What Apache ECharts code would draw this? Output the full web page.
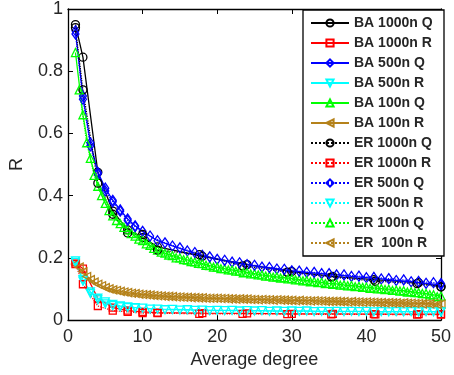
<!DOCTYPE html>
<html>
<head>
<meta charset="utf-8">
<script src="https://cdn.jsdelivr.net/npm/echarts@6/dist/echarts.min.js"></script>
<style>
  html, body { margin: 0; padding: 0; background: #fff; }
  #chart { width: 454px; height: 375px; }
</style>
</head>
<body>
<div id="chart"></div>
<script>
// ---- data ----
const xTicks = [0, 10, 20, 30, 40, 50];
const yTicks = [0, 0.2, 0.4, 0.6, 0.8, 1];

const legendNames = ['BA 1000n Q', 'BA 1000n R', 'BA 500n Q', 'BA 500n R', 'BA 100n Q', 'BA 100n R',
  'ER 1000n Q', 'ER 1000n R', 'ER 500n Q', 'ER 500n R', 'ER 100n Q', 'ER  100n R'];

// 1000 nodes
const xBA1000 = [1, 2, 4, 6, 8, 10, 12, 18, 24, 30, 35.5, 41, 47, 50];
const qBA1000 = [0.95, 0.845, 0.475, 0.35, 0.29, 0.265, 0.235, 0.205, 0.178, 0.156, 0.14, 0.13, 0.12, 0.108];
const rBA1000 = [0.185, 0.165, 0.07, 0.04, 0.03, 0.026, 0.024, 0.022, 0.021, 0.02, 0.02, 0.019, 0.019, 0.019];
const xER1000 = [1, 2, 4, 6, 8, 10, 12, 17.6, 23.4, 29.4, 35.3, 41.2, 46.8, 50];
const qER1000 = [0.94, 0.74, 0.44, 0.34, 0.28, 0.275, 0.225, 0.21, 0.174, 0.154, 0.138, 0.125, 0.117, 0.106];
const rER1000 = [0.18, 0.115, 0.045, 0.03, 0.026, 0.022, 0.022, 0.02, 0.02, 0.019, 0.018, 0.018, 0.017, 0.017];

// 500 nodes
const xBA500 = [1, 2, 3, 4, 5, 6, 7, 8, 9, 10, 12, 14, 16, 18, 20, 22, 24, 26, 28, 30, 32, 34, 36, 38, 40, 42, 44, 46, 48, 50];
const qBA500 = [0.93, 0.72, 0.57, 0.475, 0.424, 0.385, 0.354, 0.325, 0.303, 0.285, 0.255, 0.238, 0.222, 0.208, 0.195,
  0.186, 0.178, 0.17, 0.164, 0.158, 0.153, 0.149, 0.145, 0.14, 0.136, 0.132, 0.127, 0.123, 0.118, 0.113];
const rBA500 = [0.19, 0.13, 0.09, 0.07, 0.058, 0.05, 0.045, 0.042, 0.04, 0.038, 0.035, 0.034, 0.033, 0.032, 0.031,
  0.031, 0.03, 0.03, 0.029, 0.029, 0.029, 0.028, 0.028, 0.028, 0.028, 0.027, 0.027, 0.027, 0.027, 0.027];
const xER500 = [1, 2, 3, 4, 5, 6, 7, 8, 9, 11, 13, 15, 17, 19, 21, 23, 25, 27, 29, 31, 33, 35, 37, 39, 41, 43, 45, 47, 49, 50];
const qER500 = [0.92, 0.71, 0.56, 0.47, 0.415, 0.38, 0.35, 0.32, 0.3, 0.27, 0.248, 0.232, 0.217, 0.203, 0.192,
  0.184, 0.176, 0.169, 0.163, 0.157, 0.153, 0.149, 0.145, 0.141, 0.137, 0.133, 0.129, 0.124, 0.12, 0.117];
const rER500 = [0.185, 0.125, 0.085, 0.065, 0.052, 0.046, 0.042, 0.04, 0.038, 0.035, 0.033, 0.032, 0.031, 0.03, 0.03,
  0.029, 0.029, 0.028, 0.028, 0.028, 0.027, 0.027, 0.027, 0.027, 0.026, 0.026, 0.026, 0.026, 0.026, 0.026];

// 100 nodes
const xBA100 = [1, 2, 3, 4, 5, 6, 7, 8, 9, 10, 11, 12, 13, 14, 15, 16, 17, 18, 19, 20, 21, 22, 23, 24, 25,
  26, 27, 28, 29, 30, 31, 32, 33, 34, 35, 36, 37, 38, 39, 40, 41, 42, 43, 44, 45, 46, 47, 48, 49, 50];
const qBA100 = [0.86, 0.66, 0.52, 0.43, 0.375, 0.335, 0.31, 0.29, 0.27, 0.255, 0.24, 0.225, 0.215, 0.207, 0.2,
  0.193, 0.187, 0.181, 0.175, 0.17, 0.165, 0.161, 0.157, 0.153, 0.149, 0.145, 0.142, 0.139, 0.136, 0.133,
  0.13, 0.127, 0.124, 0.121, 0.118, 0.116, 0.113, 0.111, 0.108, 0.106, 0.103, 0.101, 0.099, 0.096, 0.094,
  0.091, 0.088, 0.085, 0.081, 0.077];
const rBA100 = [0.18, 0.155, 0.13, 0.115, 0.104, 0.097, 0.092, 0.088, 0.085, 0.082, 0.08, 0.078, 0.076, 0.075, 0.074,
  0.073, 0.072, 0.071, 0.07, 0.07, 0.069, 0.068, 0.068, 0.067, 0.066, 0.066, 0.065, 0.065, 0.064, 0.063,
  0.063, 0.062, 0.062, 0.061, 0.06, 0.06, 0.059, 0.059, 0.058, 0.058, 0.057, 0.056, 0.056, 0.055, 0.055,
  0.054, 0.053, 0.053, 0.052, 0.051];
const xER100 = [1.5, 2.5, 3.5, 4.5, 5.5, 6.5, 7.5, 8.5, 9.5, 10.5, 11.5, 12.5, 13.5, 14.5, 15.5, 16.5, 17.5, 18.5,
  19.5, 20.5, 21.5, 22.5, 23.5, 24.5, 25.5, 26.5, 27.5, 28.5, 29.5, 30.5, 31.5, 32.5, 33.5, 34.5, 35.5, 36.5,
  37.5, 38.5, 39.5, 40.5, 41.5, 42.5, 43.5, 44.5, 45.5, 46.5, 47.5, 48.5, 49.5];
const qER100 = [0.74, 0.57, 0.465, 0.4, 0.352, 0.32, 0.298, 0.278, 0.26, 0.245, 0.23, 0.218, 0.209, 0.2, 0.194,
  0.188, 0.182, 0.176, 0.17, 0.165, 0.161, 0.157, 0.152, 0.148, 0.145, 0.141, 0.138, 0.135, 0.132, 0.129,
  0.126, 0.123, 0.12, 0.117, 0.115, 0.112, 0.11, 0.107, 0.105, 0.102, 0.1, 0.098, 0.095, 0.093, 0.09,
  0.088, 0.085, 0.081, 0.075];
const rER100 = [0.17, 0.14, 0.122, 0.11, 0.1, 0.095, 0.09, 0.086, 0.083, 0.081, 0.079, 0.077, 0.076, 0.074, 0.073,
  0.072, 0.071, 0.07, 0.07, 0.069, 0.068, 0.067, 0.067, 0.066, 0.065, 0.065, 0.064, 0.064, 0.063, 0.062,
  0.062, 0.061, 0.061, 0.06, 0.06, 0.059, 0.058, 0.058, 0.057, 0.057, 0.056, 0.055, 0.055, 0.054, 0.054,
  0.053, 0.052, 0.052, 0.05];

const BROWN = '#B5821A';

function pairs(xs, ys) {
  return xs.map((x, i) => [x, ys[i]]);
}

function mkSeries(name, xs, ys, color, symbol, rotate, size, dotted) {
  return {
    name: name,
    type: 'line',
    data: pairs(xs, ys),
    symbol: symbol,
    symbolSize: size,
    symbolRotate: rotate,
    showSymbol: true,
    animation: false,
    lineStyle: { color: color, width: dotted ? 1.2 : 1.3, type: dotted ? 'dotted' : 'solid' },
    itemStyle: { color: 'rgba(255,255,255,0)', borderColor: color, borderWidth: 1.3 },
    emphasis: { disabled: true }
  };
}

const series = [
  mkSeries(legendNames[0], xBA1000, qBA1000, '#000000', 'circle', 0, 8, false),
  mkSeries(legendNames[1], xBA1000, rBA1000, '#FF0000', 'rect', 0, 7, false),
  mkSeries(legendNames[2], xBA500, qBA500, '#0000FF', 'diamond', 0, [7, 10], false),
  mkSeries(legendNames[3], xBA500, rBA500, '#00FFFF', 'triangle', 180, 8, false),
  mkSeries(legendNames[4], xBA100, qBA100, '#00FF00', 'triangle', 0, 8, false),
  mkSeries(legendNames[5], xBA100, rBA100, BROWN, 'triangle', 90, 8, false),
  mkSeries(legendNames[6], xER1000, qER1000, '#000000', 'circle', 0, 8, true),
  mkSeries(legendNames[7], xER1000, rER1000, '#FF0000', 'rect', 0, 7, true),
  mkSeries(legendNames[8], xER500, qER500, '#0000FF', 'diamond', 0, [7, 10], true),
  mkSeries(legendNames[9], xER500, rER500, '#00FFFF', 'triangle', 180, 8, true),
  mkSeries(legendNames[10], xER100, qER100, '#00FF00', 'triangle', 0, 8, true),
  mkSeries(legendNames[11], xER100, rER100, BROWN, 'triangle', 90, 8, true)
];

const chart = echarts.init(document.getElementById('chart'), null, { renderer: 'canvas' });

const axisFont = { fontFamily: 'Liberation Sans, Arial, sans-serif', fontSize: 18, color: '#262626' };

const option = {
  backgroundColor: '#fff',
  animation: false,
  grid: { left: 65, right: 9, top: 8, bottom: 55, containLabel: false },
  legend: {
    orient: 'vertical',
    left: 303,
    top: 10,
    data: legendNames,
    itemWidth: 38,
    itemHeight: 9,
    itemGap: 6,
    padding: [6, 7, 6, 7],
    backgroundColor: '#fff',
    borderColor: '#000',
    borderWidth: 1.3,
    borderRadius: 0,
    selectedMode: false,
    textStyle: {
      fontFamily: 'Liberation Sans, Arial, sans-serif',
      fontSize: 14,
      fontWeight: 'bold',
      color: '#262626',
      lineHeight: 14,
      width: 83
    }
  },
  xAxis: [
    {
      type: 'value', min: 0, max: 50, interval: 10,
      name: 'Average degree', nameLocation: 'middle', nameGap: 28,
      nameTextStyle: axisFont,
      axisLine: { show: true, onZero: false, lineStyle: { color: '#000', width: 1.3 } },
      axisTick: { show: true, inside: true, length: 5, lineStyle: { color: '#000' } },
      axisLabel: Object.assign({ margin: 8, formatter: v => xTicks.includes(v) ? String(v) : '' }, axisFont),
      splitLine: { show: false }
    },
    {
      type: 'value', min: 0, max: 50, interval: 10, position: 'top',
      axisLine: { show: true, onZero: false, lineStyle: { color: '#000', width: 1.3 } },
      axisTick: { show: true, inside: true, length: 5, lineStyle: { color: '#000' } },
      axisLabel: { show: false },
      splitLine: { show: false }
    }
  ],
  yAxis: [
    {
      type: 'value', min: 0, max: 1, interval: 0.2,
      name: 'R', nameLocation: 'middle', nameGap: 42,
      nameTextStyle: axisFont,
      axisLine: { show: true, onZero: false, lineStyle: { color: '#000', width: 1.3 } },
      axisTick: { show: true, inside: true, length: 5, lineStyle: { color: '#000' } },
      axisLabel: Object.assign({
        margin: 5,
        formatter: v => {
          const t = yTicks.find(k => Math.abs(k - v) < 1e-9);
          return t === undefined ? '' : String(t);
        }
      }, axisFont),
      splitLine: { show: false }
    },
    {
      type: 'value', min: 0, max: 1, interval: 0.2, position: 'right',
      axisLine: { show: true, onZero: false, lineStyle: { color: '#000', width: 1.3 } },
      axisTick: { show: true, inside: true, length: 5, lineStyle: { color: '#000' } },
      axisLabel: { show: false },
      splitLine: { show: false }
    }
  ],
  series: series
};

chart.setOption(option);
</script>
</body>
</html>
